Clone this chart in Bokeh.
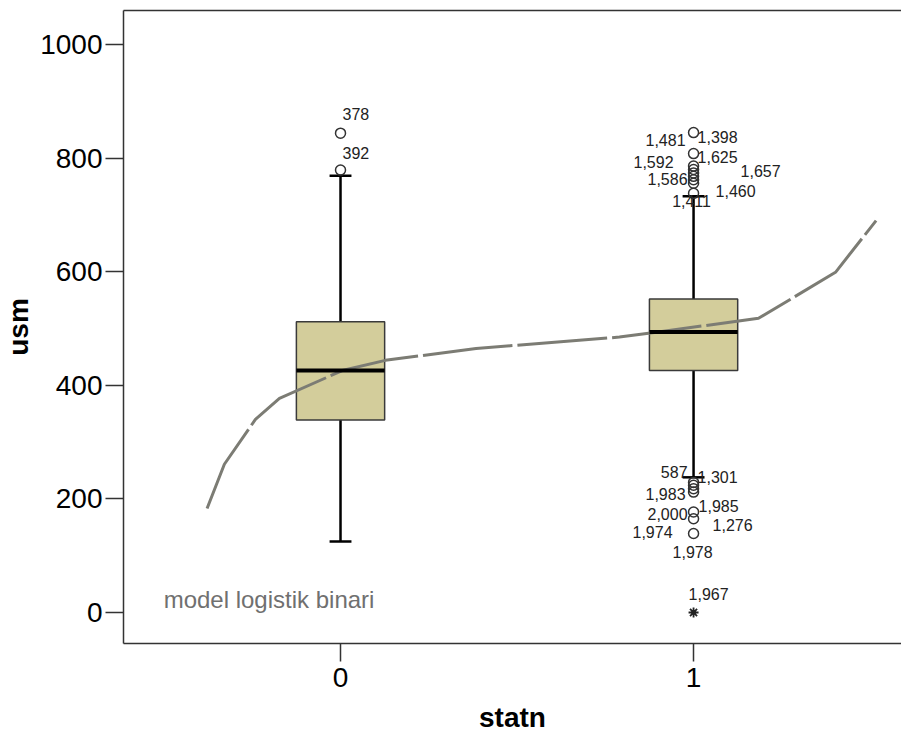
from bokeh.plotting import figure
from bokeh.models import Range1d, LinearAxis, FixedTicker, ColumnDataSource, LabelSet, Label
from bokeh.embed import file_html
from bokeh.resources import INLINE
from bokeh.core.properties import field, value

# ---- data ----
groups = [0, 1]
q1 = [339, 426]
medians = [426, 494]
q3 = [512, 552]
whisker_low = [125, 238]
whisker_high = [769, 733]

outlier_statn = [0, 0,
                 1, 1, 1, 1, 1, 1, 1, 1, 1,
                 1, 1, 1, 1, 1, 1, 1]
outlier_usm = [844, 779,
               845, 808, 786, 780, 774, 768, 762, 756, 738,
               229, 224, 218, 212, 177, 165, 139]

extreme_statn = [1]
extreme_usm = [0]

label_text = ["378", "392",
              "1,481", "1,398", "1,592", "1,625", "1,586", "1,657", "1,460", "1,411",
              "587", "1,301", "1,983", "1,985", "2,000", "1,276", "1,974", "1,978",
              "1,967"]
label_statn = [0, 0,
               1, 1, 1, 1, 1, 1, 1, 1,
               1, 1, 1, 1, 1, 1, 1, 1,
               1]
label_usm = [844, 779,
             845, 845, 808, 808, 774, 786, 762, 738,
             229, 229, 212, 177, 165, 165, 139, 139,
             0]

curve_statn = [-0.378, -0.329, -0.241, -0.173, 0.005, 0.127, 0.384, 0.790, 0.900, 1.184, 1.402, 1.517]
curve_usm = [183, 261, 340, 377, 426, 444, 465, 485, 494, 518, 599, 690]

y_ticks = [0, 200, 400, 600, 800, 1000]
x_ticks = [0, 1]

# ---- styling (pixel offsets for outlier labels) ----
lab_dx = [2, 2,
          -8, 4, -20, 4, -6, 47, 22, -2,
          -6, 4, -8, 5, -6, 19, -21, -1,
          -5]
lab_dy = [19, 17,
          -7, -4, -8, -3.5, -6, -5, -11, -8,
          10, 5, -2, 5.5, 5, -6, 1.5, -18,
          18.5]
lab_align = ["left", "left",
             "right", "left", "right", "left", "right", "left", "left", "center",
             "right", "left", "right", "left", "right", "left", "right", "center",
             "left"]

FONT = "Liberation Sans"
BOX_W = 0.25
CAP_W = 0.062

p = figure(width=901, height=736,
           x_range=Range1d(-0.6147, 1.589), y_range=Range1d(-54.6, 1060),
           output_backend="svg", toolbar_location=None,
           min_border_left=123, min_border_right=0, min_border_top=10, min_border_bottom=93)
p.outline_line_color = None
p.grid.visible = False
p.background_fill_color = "white"
p.border_fill_color = "white"

# axes
p.yaxis.ticker = FixedTicker(ticks=y_ticks)
p.xaxis.ticker = FixedTicker(ticks=x_ticks)
for ax in (p.xaxis, p.yaxis):
    ax.major_tick_out = 18
    ax.major_tick_in = 0
    ax.minor_tick_line_color = None
    ax.major_tick_line_color = "#333333"
    ax.major_tick_line_width = 1.5
    ax.axis_line_color = "#333333"
    ax.axis_line_width = 1.5
    ax.major_label_text_font = FONT
    ax.major_label_text_font_size = "28px"
    ax.major_label_text_color = "black"
    ax.axis_label_text_font = FONT
    ax.axis_label_text_font_size = "28px"
    ax.axis_label_text_font_style = "bold"
    ax.axis_label_text_color = "black"
p.yaxis.major_label_standoff = 3
p.xaxis.major_label_standoff = 6
p.yaxis.axis_label = "usm"
p.xaxis.axis_label = "statn"
p.yaxis.axis_label_standoff = 3
p.yaxis.axis_label_text_line_height = 0.85
p.xaxis.axis_label_standoff = 12

top_axis = LinearAxis(ticker=FixedTicker(ticks=[]), major_label_text_font_size="0px",
                      major_tick_line_color=None, minor_tick_line_color=None,
                      axis_line_color="#333333", axis_line_width=1.5)
p.add_layout(top_axis, "above")

# whiskers
cap_x0 = [g - CAP_W / 2 for g in groups]
cap_x1 = [g + CAP_W / 2 for g in groups]
p.segment(x0=groups, y0=q3, x1=groups, y1=whisker_high, line_color="black", line_width=2.5)
p.segment(x0=groups, y0=q1, x1=groups, y1=whisker_low, line_color="black", line_width=2.5)
p.segment(x0=cap_x0, y0=whisker_high, x1=cap_x1, y1=whisker_high, line_color="black", line_width=2.5)
p.segment(x0=cap_x0, y0=whisker_low, x1=cap_x1, y1=whisker_low, line_color="black", line_width=2.5)

# boxes
p.vbar(x=groups, width=BOX_W, top=q3, bottom=q1, fill_color="#d3cd9b",
       line_color="#3a3a3a", line_width=1.5)

# curve
p.line(curve_statn, curve_usm, line_color="#7c7c74", line_width=3, line_dash="90 5")

# medians
med_x0 = [g - BOX_W / 2 for g in groups]
med_x1 = [g + BOX_W / 2 for g in groups]
p.segment(x0=med_x0, y0=medians, x1=med_x1, y1=medians, line_color="black", line_width=4)

# outliers
p.scatter(outlier_statn, outlier_usm, marker="circle", size=10, fill_color=None,
          line_color="#333333", line_width=1.5)
p.scatter(extreme_statn, extreme_usm, marker="asterisk", size=10,
          line_color="#222222", line_width=1.8)

# outlier labels
src = ColumnDataSource(dict(x=label_statn, y=label_usm, text=label_text,
                            dx=lab_dx, dy=lab_dy, align=lab_align))
labels = LabelSet(x="x", y="y", text="text", source=src,
                  x_offset=field("dx"), y_offset=field("dy"), text_align=field("align"),
                  text_baseline="middle", text_font=value(FONT), text_font_size="16px",
                  text_color="#222222")
p.add_layout(labels)

# legend-like note
p.add_layout(Label(x=-0.501, y=23, text="model logistik binari", text_font=FONT,
                   text_font_size="24px", text_color="#707070",
                   text_baseline="alphabetic", text_align="left"))

open("out.html", "w").write(file_html(p, INLINE))
